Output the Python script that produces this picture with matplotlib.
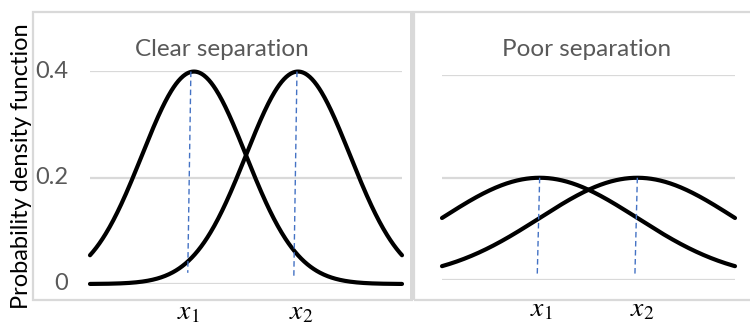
import numpy as np
import matplotlib.pyplot as plt
from matplotlib.patches import Rectangle

plt.rcParams['font.family'] = ['Lato', 'DejaVu Sans']
plt.rcParams['mathtext.fontset'] = 'stix'

# two normal curves per panel
titles = ["Clear separation", "Poor separation"]
means = [0.0, 2.0]
sigmas = [1.0, 2.0]          # left panel, right panel
x_range = [-2.0, 4.0]
y_ticks = [0, 0.2, 0.4]
y_tick_labels = ["0", "0.2", "0.4"]
x_tick_labels = ["$x_1$", "$x_2$"]
# dashed marker lines: (x at top, x at bottom, bottom y) per panel
marker_left = [(-0.06, -0.12, 0.021), (1.98, 1.92, 0.014)]
marker_right = [(0.0, -0.05, 0.008), (2.0, 1.95, 0.008)]

grid_c = "#d9d9d9"
text_c = "#595959"
blue = "#4472c4"

fig = plt.figure(figsize=(7.5, 3.24), dpi=100)
W, H = 750, 324


def px_axes(x0, x1, ybot, ytop):
    return fig.add_axes([x0 / W, 1 - ybot / H, (x1 - x0) / W, (ybot - ytop) / H])


# chart frames
fig.patches.append(Rectangle((33 / W, 1 - 300 / H), 379 / W, 288 / H,
                             transform=fig.transFigure, fill=False,
                             edgecolor=grid_c, lw=1.6))
fig.patches.append(Rectangle((414 / W, 1 - 300 / H), 340 / W, 288 / H,
                             transform=fig.transFigure, fill=False,
                             edgecolor=grid_c, lw=1.6))
fig.patches.append(Rectangle((410 / W, 1 - 300 / H), 5 / W, 288 / H,
                             transform=fig.transFigure, color=grid_c, lw=0))

ax1 = px_axes(90, 402, 284, 71)
ax2 = px_axes(442, 735, 280, 75)

x = np.linspace(x_range[0], x_range[1], 400)


def pdf(v, m, s):
    return np.exp(-0.5 * ((v - m) / s) ** 2) / (s * np.sqrt(2 * np.pi))


for ax, s, markers in [(ax1, sigmas[0], marker_left), (ax2, sigmas[1], marker_right)]:
    ax.set_xlim(x_range)
    ax.set_ylim(0, 0.4)
    for yt in y_ticks:
        ax.axhline(yt, color=grid_c, lw=1.6, zorder=0)
    for m in means:
        ax.plot(x, pdf(x, m, s), color="black", lw=3, clip_on=False,
                solid_capstyle="round")
    for (xt, xb, yb), m in zip(markers, means):
        ax.plot([xt, xb], [pdf(m, m, s), yb], color=blue, lw=1,
                ls=(0, (4, 2.5)), clip_on=False)
    ax.set_xticks([])
    ax.set_yticks([])
    for sp in ax.spines.values():
        sp.set_visible(False)
    ax.patch.set_alpha(0)

# y tick labels on the left panel only
for yt, lab in zip(y_ticks, y_tick_labels):
    ax1.text(-0.07, yt, lab, transform=ax1.get_yaxis_transform(),
             ha="right", va="center", fontsize=17, color=text_c)

# x tick labels below the frames
fig.text(188 / W, 1 - 312 / H, x_tick_labels[0], ha="center", va="center", fontsize=20)
fig.text(301 / W, 1 - 312 / H, x_tick_labels[1], ha="center", va="center", fontsize=20)
fig.text(541 / W, 1 - 309 / H, x_tick_labels[0], ha="center", va="center", fontsize=20)
fig.text(642 / W, 1 - 309 / H, x_tick_labels[1], ha="center", va="center", fontsize=20)

fig.text(222 / W, 1 - 49 / H, titles[0], ha="center", va="center", fontsize=17.5, color=text_c)
fig.text(587 / W, 1 - 49 / H, titles[1], ha="center", va="center", fontsize=17.5, color=text_c)

fig.text(22 / W, 1 - 166 / H, "Probability density function", rotation=90,
         ha="center", va="center", fontsize=17, color="black")

fig.savefig("out.png", dpi=100)
